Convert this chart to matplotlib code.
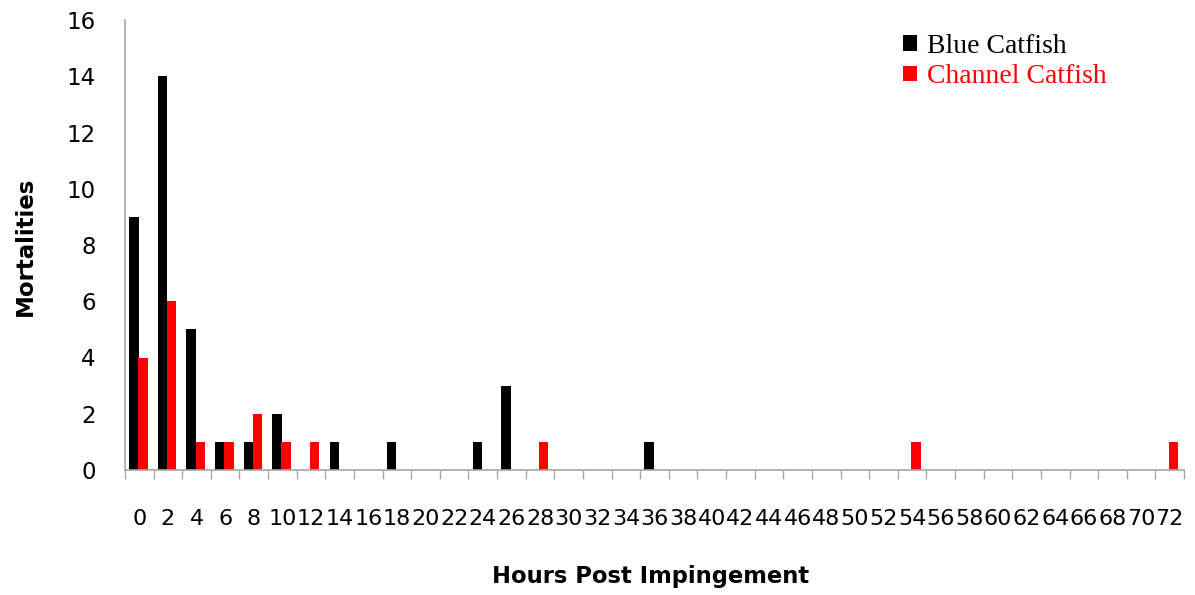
import numpy as np
import matplotlib
matplotlib.use('Agg')
import matplotlib.pyplot as plt
from matplotlib.patches import Patch

# Mortalities by hours post impingement
hours = list(range(0, 73, 2))
blue_catfish = [9, 14, 5, 1, 1, 2, 0, 1, 0, 1, 0, 0, 1, 3, 0, 0, 0, 0, 1,
                0, 0, 0, 0, 0, 0, 0, 0, 0, 0, 0, 0, 0, 0, 0, 0, 0, 0]
channel_catfish = [4, 6, 1, 1, 2, 1, 1, 0, 0, 0, 0, 0, 0, 0, 1, 0, 0, 0, 0,
                   0, 0, 0, 0, 0, 0, 0, 0, 1, 0, 0, 0, 0, 0, 0, 0, 0, 1]
series_names = ['Blue Catfish', 'Channel Catfish']
series_colors = ['black', '#ff0000']

fig = plt.figure(figsize=(11.95, 5.95), dpi=100)
ax = fig.add_axes([125 / 1195, 1 - 470 / 595, 1059 / 1195, 450 / 595])

x = np.arange(len(hours))
w = 0.33
ax.bar(x - 0.19, blue_catfish, width=w, color=series_colors[0], linewidth=0)
ax.bar(x + 0.13, channel_catfish, width=w, color=series_colors[1], linewidth=0)

ax.set_xlim(-0.5, len(hours) - 0.5)
ax.set_ylim(0, 16)
ax.set_yticks(range(0, 17, 2))

ax.set_xticks(x)
ax.set_xticklabels([str(h) for h in hours])
ax.set_xticks(np.arange(-0.5, len(hours)), minor=True)
ax.tick_params(axis='x', which='major', length=0, pad=28, labelsize=16)
ax.tick_params(axis='x', which='minor', length=6.5, width=1, color='#a6a6a6', direction='out')
ax.tick_params(axis='y', length=0, pad=21, labelsize=16.5)

for s in ['top', 'right']:
    ax.spines[s].set_visible(False)
for s in ['left', 'bottom']:
    ax.spines[s].set_color('#a6a6a6')
    ax.spines[s].set_linewidth(1.2)

fig.text(651 / 1195, 1 - 576 / 595, 'Hours Post Impingement', ha='center', va='center',
         fontsize=16.3, fontweight='bold')
fig.text(25 / 1195, 1 - 246 / 595, 'Mortalities', ha='center', va='center',
         rotation=90, fontsize=16.5, fontweight='bold')

handles = [Patch(facecolor=c, edgecolor='none') for c in series_colors]
leg = ax.legend(handles, series_names, loc='upper left', bbox_to_anchor=(767 / 1059, 0.994),
                frameon=False, prop={'family': 'Liberation Serif', 'size': 20},
                handlelength=0.5, handleheight=0.5, handletextpad=0.35, labelspacing=0.2,
                borderaxespad=0)
for t, c in zip(leg.get_texts(), series_colors):
    t.set_color(c)

fig.savefig('out.png', dpi=100)
